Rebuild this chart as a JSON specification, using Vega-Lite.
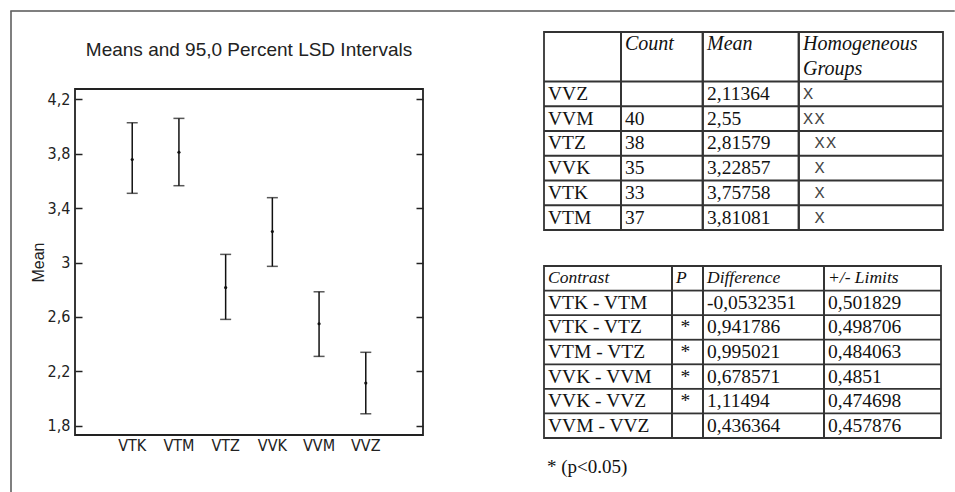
{
  "$schema": "https://vega.github.io/schema/vega-lite/v6.json",
  "padding": {"left": 10, "top": 10, "right": 0, "bottom": 0},
  "config": {"view": {"stroke": null}, "font": "Liberation Sans"},
  "datasets": {
    "means": [
      {"group": "VTK", "mean": 3.75758, "lower": 3.509, "upper": 4.028},
      {"group": "VTM", "mean": 3.81081, "lower": 3.565, "upper": 4.06},
      {"group": "VTZ", "mean": 2.81579, "lower": 2.582, "upper": 3.06},
      {"group": "VVK", "mean": 3.22857, "lower": 2.972, "upper": 3.477},
      {"group": "VVM", "mean": 2.55, "lower": 2.31, "upper": 2.785},
      {"group": "VVZ", "mean": 2.11364, "lower": 1.888, "upper": 2.34}
    ],
    "t1": [
      {"kind": "head", "row": "h1", "name": "", "count": "Count", "mean": "Mean", "groups": "Homogeneous", "g1": "", "g2": "", "g3": ""},
      {"kind": "head", "row": "h2", "name": "", "count": "", "mean": "", "groups": "Groups", "g1": "", "g2": "", "g3": ""},
      {"kind": "body", "row": "VVZ", "name": "VVZ", "count": "", "mean": "2,11364", "groups": "", "g1": "X", "g2": "", "g3": ""},
      {"kind": "body", "row": "VVM", "name": "VVM", "count": "40", "mean": "2,55", "groups": "", "g1": "X", "g2": "X", "g3": ""},
      {"kind": "body", "row": "VTZ", "name": "VTZ", "count": "38", "mean": "2,81579", "groups": "", "g1": "", "g2": "X", "g3": "X"},
      {"kind": "body", "row": "VVK", "name": "VVK", "count": "35", "mean": "3,22857", "groups": "", "g1": "", "g2": "X", "g3": ""},
      {"kind": "body", "row": "VTK", "name": "VTK", "count": "33", "mean": "3,75758", "groups": "", "g1": "", "g2": "X", "g3": ""},
      {"kind": "body", "row": "VTM", "name": "VTM", "count": "37", "mean": "3,81081", "groups": "", "g1": "", "g2": "X", "g3": ""}
    ],
    "t2": [
      {"kind": "head", "row": "head", "contrast": "Contrast", "p": "P", "diff": "Difference", "lim": "+/- Limits"},
      {"kind": "body", "row": "VTK - VTM", "contrast": "VTK - VTM", "p": "", "diff": "-0,0532351", "lim": "0,501829"},
      {"kind": "body", "row": "VTK - VTZ", "contrast": "VTK - VTZ", "p": "*", "diff": "0,941786", "lim": "0,498706"},
      {"kind": "body", "row": "VTM - VTZ", "contrast": "VTM - VTZ", "p": "*", "diff": "0,995021", "lim": "0,484063"},
      {"kind": "body", "row": "VVK - VVM", "contrast": "VVK - VVM", "p": "*", "diff": "0,678571", "lim": "0,4851"},
      {"kind": "body", "row": "VVK - VVZ", "contrast": "VVK - VVZ", "p": "*", "diff": "1,11494", "lim": "0,474698"},
      {"kind": "body", "row": "VVM - VVZ", "contrast": "VVM - VVZ", "p": "", "diff": "0,436364", "lim": "0,457876"}
    ],
    "note": [{"note": "* (p<0.05)"}]
  },
  "spacing": -1.5,
  "vconcat": [
    {"width": 943, "height": 0.001, "view": {"stroke": "#555", "strokeWidth": 1.5}, "data": {"values": []}, "mark": "point"},
    {
      "spacing": 17,
      "hconcat": [
        {"width": 0.001, "height": 481, "view": {"stroke": "#555", "strokeWidth": 1.5}, "data": {"values": []}, "mark": "point"},
        {
          "bounds": "flush",
          "spacing": 76,
          "vconcat": [
            {"width": 348, "height": 0.001, "data": {"values": []}, "mark": "point"},
            {
              "width": 348,
              "height": 346,
              "view": {"stroke": "#222", "strokeWidth": 1.8},
              "title": {"text": "Means and 95,0 Percent LSD Intervals", "font": "Liberation Sans", "fontSize": 19, "fontWeight": "normal", "color": "#222", "anchor": "middle", "baseline": "alphabetic", "offset": 14},
              "data": {"name": "means"},
              "encoding": {
                "x": {
                  "field": "group", "type": "nominal", "sort": null,
                  "scale": {"type": "band", "paddingInner": 0, "paddingOuter": 0.725, "domain": ["VTK", "VTM", "VTZ", "VVK", "VVM", "VVZ"]},
                  "axis": {"title": null, "labelAngle": 0, "ticks": false, "domain": false, "labelFont": "Liberation Sans Narrow, DejaVu Sans Condensed, Liberation Sans", "labelFontSize": 16, "labelColor": "#222", "labelPadding": 2}
                }
              },
              "layer": [
                {
                  "mark": {"type": "rule", "color": "#111", "strokeWidth": 1.5},
                  "encoding": {
                    "y": {
                      "field": "lower", "type": "quantitative",
                      "scale": {"domain": [1.732, 4.276], "nice": false, "zero": false},
                      "axis": {"orient": "left", "values": [1.8, 2.2, 2.6, 3, 3.4, 3.8, 4.2], "labelExpr": "replace(format(datum.value, '.1~f'), '.', ',')", "tickSize": -7, "tickWidth": 1.5, "tickColor": "#222", "domain": false, "grid": false, "labelFont": "Liberation Sans Narrow, DejaVu Sans Condensed, Liberation Sans", "labelFontSize": 16, "labelColor": "#222", "labelPadding": 12, "title": "Mean", "titleFont": "Liberation Sans", "titleFontSize": 16, "titleFontWeight": "normal", "titleColor": "#222", "titlePadding": 1}
                    },
                    "y2": {"field": "upper"}
                  }
                },
                {
                  "mark": {"type": "tick", "color": "#111", "size": 11, "thickness": 1.5},
                  "encoding": {
                    "y": {"field": "upper", "type": "quantitative", "axis": {"orient": "right", "values": [1.8, 2.2, 2.6, 3, 3.4, 3.8, 4.2], "labels": false, "tickSize": -7, "tickWidth": 1.5, "tickColor": "#222", "domain": false, "grid": false, "title": null}}
                  }
                },
                {
                  "mark": {"type": "tick", "color": "#111", "size": 11, "thickness": 1.5},
                  "encoding": {"y": {"field": "lower", "type": "quantitative", "axis": null}}
                },
                {
                  "mark": {"type": "circle", "size": 10, "color": "#111", "opacity": 1},
                  "encoding": {"y": {"field": "mean", "type": "quantitative", "axis": null}}
                }
              ],
              "resolve": {"axis": {"y": "independent"}}
            }
          ]
        },
        {"width": 82.2, "height": 0.001, "data": {"values": []}, "mark": "point"},
        {
          "spacing": 11,
          "vconcat": [
            {"width": 398, "height": 7.1, "data": {"values": []}, "mark": "point"},
            {
              "bounds": "flush",
              "spacing": 0,
              "hconcat": [
                {
                  "width": 77, "height": 198,
                  "view": {"stroke": "#333", "strokeWidth": 1.8},
                  "data": {"name": "t1"},
                  "layer": [
                    {"transform": [{"filter": "datum.kind == 'body'"}], "mark": {"type": "rule", "color": "#333", "strokeWidth": 1.8}, "encoding": {"y": {"field": "row", "type": "nominal", "bandPosition": 0, "scale": {"type": "band", "domain": ["h1", "h2", "VVZ", "VVM", "VTZ", "VVK", "VTK", "VTM"], "paddingInner": 0, "paddingOuter": 0}, "axis": null}}},
                    {"transform": [{"filter": "datum.kind == 'body'"}], "mark": {"type": "text", "align": "left", "dx": 4, "font": "Liberation Serif", "fontSize": 19.5, "color": "#111"}, "encoding": {"y": {"field": "row", "type": "nominal", "scale": {"type": "band", "domain": ["h1", "h2", "VVZ", "VVM", "VTZ", "VVK", "VTK", "VTM"], "paddingInner": 0, "paddingOuter": 0}, "axis": null}, "x": {"datum": 0, "type": "quantitative", "scale": {"domain": [0, 1]}, "axis": null}, "text": {"field": "name"}}}
                  ]
                },
                {
                  "width": 81.5, "height": 198,
                  "view": {"stroke": "#333", "strokeWidth": 1.8},
                  "data": {"name": "t1"},
                  "layer": [
                    {"transform": [{"filter": "datum.kind == 'body'"}], "mark": {"type": "rule", "color": "#333", "strokeWidth": 1.8}, "encoding": {"y": {"field": "row", "type": "nominal", "bandPosition": 0, "scale": {"type": "band", "domain": ["h1", "h2", "VVZ", "VVM", "VTZ", "VVK", "VTK", "VTM"], "paddingInner": 0, "paddingOuter": 0}, "axis": null}}},
                    {"transform": [{"filter": "datum.kind == 'head'"}], "mark": {"type": "text", "align": "left", "dx": 4, "font": "Liberation Serif", "fontStyle": "italic", "fontSize": 20, "color": "#111"}, "encoding": {"y": {"field": "row", "type": "nominal", "scale": {"type": "band", "domain": ["h1", "h2", "VVZ", "VVM", "VTZ", "VVK", "VTK", "VTM"], "paddingInner": 0, "paddingOuter": 0}, "axis": null}, "x": {"datum": 0, "type": "quantitative", "scale": {"domain": [0, 1]}, "axis": null}, "text": {"field": "count"}}},
                    {"transform": [{"filter": "datum.kind == 'body'"}], "mark": {"type": "text", "align": "left", "dx": 4, "font": "Liberation Serif", "fontSize": 19.5, "color": "#111"}, "encoding": {"y": {"field": "row", "type": "nominal", "scale": {"type": "band", "domain": ["h1", "h2", "VVZ", "VVM", "VTZ", "VVK", "VTK", "VTM"], "paddingInner": 0, "paddingOuter": 0}, "axis": null}, "x": {"datum": 0, "type": "quantitative", "scale": {"domain": [0, 1]}, "axis": null}, "text": {"field": "count"}}}
                  ]
                },
                {
                  "width": 95.5, "height": 198,
                  "view": {"stroke": "#333", "strokeWidth": 1.8},
                  "data": {"name": "t1"},
                  "layer": [
                    {"transform": [{"filter": "datum.kind == 'body'"}], "mark": {"type": "rule", "color": "#333", "strokeWidth": 1.8}, "encoding": {"y": {"field": "row", "type": "nominal", "bandPosition": 0, "scale": {"type": "band", "domain": ["h1", "h2", "VVZ", "VVM", "VTZ", "VVK", "VTK", "VTM"], "paddingInner": 0, "paddingOuter": 0}, "axis": null}}},
                    {"transform": [{"filter": "datum.kind == 'head'"}], "mark": {"type": "text", "align": "left", "dx": 4, "font": "Liberation Serif", "fontStyle": "italic", "fontSize": 20, "color": "#111"}, "encoding": {"y": {"field": "row", "type": "nominal", "scale": {"type": "band", "domain": ["h1", "h2", "VVZ", "VVM", "VTZ", "VVK", "VTK", "VTM"], "paddingInner": 0, "paddingOuter": 0}, "axis": null}, "x": {"datum": 0, "type": "quantitative", "scale": {"domain": [0, 1]}, "axis": null}, "text": {"field": "mean"}}},
                    {"transform": [{"filter": "datum.kind == 'body'"}], "mark": {"type": "text", "align": "left", "dx": 4, "font": "Liberation Serif", "fontSize": 19.5, "color": "#111"}, "encoding": {"y": {"field": "row", "type": "nominal", "scale": {"type": "band", "domain": ["h1", "h2", "VVZ", "VVM", "VTZ", "VVK", "VTK", "VTM"], "paddingInner": 0, "paddingOuter": 0}, "axis": null}, "x": {"datum": 0, "type": "quantitative", "scale": {"domain": [0, 1]}, "axis": null}, "text": {"field": "mean"}}}
                  ]
                },
                {
                  "width": 144, "height": 198,
                  "view": {"stroke": "#333", "strokeWidth": 1.8},
                  "data": {"name": "t1"},
                  "layer": [
                    {"transform": [{"filter": "datum.kind == 'body'"}], "mark": {"type": "rule", "color": "#333", "strokeWidth": 1.8}, "encoding": {"y": {"field": "row", "type": "nominal", "bandPosition": 0, "scale": {"type": "band", "domain": ["h1", "h2", "VVZ", "VVM", "VTZ", "VVK", "VTK", "VTM"], "paddingInner": 0, "paddingOuter": 0}, "axis": null}}},
                    {"transform": [{"filter": "datum.kind == 'head'"}], "mark": {"type": "text", "align": "left", "dx": 4, "font": "Liberation Serif", "fontStyle": "italic", "fontSize": 20, "color": "#111"}, "encoding": {"y": {"field": "row", "type": "nominal", "scale": {"type": "band", "domain": ["h1", "h2", "VVZ", "VVM", "VTZ", "VVK", "VTK", "VTM"], "paddingInner": 0, "paddingOuter": 0}, "axis": null}, "x": {"datum": 0, "type": "quantitative", "scale": {"domain": [0, 1]}, "axis": null}, "text": {"field": "groups"}}},
                    {"transform": [{"filter": "datum.kind == 'body'"}], "mark": {"type": "text", "align": "left", "dx": 4, "font": "Liberation Mono", "fontSize": 17, "color": "#444"}, "encoding": {"y": {"field": "row", "type": "nominal", "scale": {"type": "band", "domain": ["h1", "h2", "VVZ", "VVM", "VTZ", "VVK", "VTK", "VTM"], "paddingInner": 0, "paddingOuter": 0}, "axis": null}, "x": {"datum": 0, "type": "quantitative", "scale": {"domain": [0, 1]}, "axis": null}, "text": {"field": "g1"}}},
                    {"transform": [{"filter": "datum.kind == 'body'"}], "mark": {"type": "text", "align": "left", "dx": 15.5, "font": "Liberation Mono", "fontSize": 17, "color": "#444"}, "encoding": {"y": {"field": "row", "type": "nominal", "scale": {"type": "band", "domain": ["h1", "h2", "VVZ", "VVM", "VTZ", "VVK", "VTK", "VTM"], "paddingInner": 0, "paddingOuter": 0}, "axis": null}, "x": {"datum": 0, "type": "quantitative", "scale": {"domain": [0, 1]}, "axis": null}, "text": {"field": "g2"}}},
                    {"transform": [{"filter": "datum.kind == 'body'"}], "mark": {"type": "text", "align": "left", "dx": 27, "font": "Liberation Mono", "fontSize": 17, "color": "#444"}, "encoding": {"y": {"field": "row", "type": "nominal", "scale": {"type": "band", "domain": ["h1", "h2", "VVZ", "VVM", "VTZ", "VVK", "VTK", "VTM"], "paddingInner": 0, "paddingOuter": 0}, "axis": null}, "x": {"datum": 0, "type": "quantitative", "scale": {"domain": [0, 1]}, "axis": null}, "text": {"field": "g3"}}}
                  ]
                }
              ]
            },
            {"width": 398, "height": 11.2, "data": {"values": []}, "mark": "point"},
            {
              "bounds": "flush",
              "spacing": 0,
              "hconcat": [
                {
                  "width": 128, "height": 172,
                  "view": {"stroke": "#333", "strokeWidth": 1.8},
                  "data": {"name": "t2"},
                  "layer": [
                    {"transform": [{"filter": "datum.kind == 'body'"}], "mark": {"type": "rule", "color": "#333", "strokeWidth": 1.8}, "encoding": {"y": {"field": "row", "type": "nominal", "bandPosition": 0, "scale": {"type": "band", "domain": ["head", "VTK - VTM", "VTK - VTZ", "VTM - VTZ", "VVK - VVM", "VVK - VVZ", "VVM - VVZ"], "paddingInner": 0, "paddingOuter": 0}, "axis": null}}},
                    {"transform": [{"filter": "datum.kind == 'head'"}], "mark": {"type": "text", "align": "left", "dx": 4, "font": "Liberation Serif", "fontStyle": "italic", "fontSize": 17.5, "color": "#111"}, "encoding": {"y": {"field": "row", "type": "nominal", "scale": {"type": "band", "domain": ["head", "VTK - VTM", "VTK - VTZ", "VTM - VTZ", "VVK - VVM", "VVK - VVZ", "VVM - VVZ"], "paddingInner": 0, "paddingOuter": 0}, "axis": null}, "x": {"datum": 0, "type": "quantitative", "scale": {"domain": [0, 1]}, "axis": null}, "text": {"field": "contrast"}}},
                    {"transform": [{"filter": "datum.kind == 'body'"}], "mark": {"type": "text", "align": "left", "dx": 4, "font": "Liberation Serif", "fontSize": 19.5, "color": "#111"}, "encoding": {"y": {"field": "row", "type": "nominal", "scale": {"type": "band", "domain": ["head", "VTK - VTM", "VTK - VTZ", "VTM - VTZ", "VVK - VVM", "VVK - VVZ", "VVM - VVZ"], "paddingInner": 0, "paddingOuter": 0}, "axis": null}, "x": {"datum": 0, "type": "quantitative", "scale": {"domain": [0, 1]}, "axis": null}, "text": {"field": "contrast"}}}
                  ]
                },
                {
                  "width": 31, "height": 172,
                  "view": {"stroke": "#333", "strokeWidth": 1.8},
                  "data": {"name": "t2"},
                  "layer": [
                    {"transform": [{"filter": "datum.kind == 'body'"}], "mark": {"type": "rule", "color": "#333", "strokeWidth": 1.8}, "encoding": {"y": {"field": "row", "type": "nominal", "bandPosition": 0, "scale": {"type": "band", "domain": ["head", "VTK - VTM", "VTK - VTZ", "VTM - VTZ", "VVK - VVM", "VVK - VVZ", "VVM - VVZ"], "paddingInner": 0, "paddingOuter": 0}, "axis": null}}},
                    {"transform": [{"filter": "datum.kind == 'head'"}], "mark": {"type": "text", "align": "left", "dx": 4, "font": "Liberation Serif", "fontStyle": "italic", "fontSize": 17.5, "color": "#111"}, "encoding": {"y": {"field": "row", "type": "nominal", "scale": {"type": "band", "domain": ["head", "VTK - VTM", "VTK - VTZ", "VTM - VTZ", "VVK - VVM", "VVK - VVZ", "VVM - VVZ"], "paddingInner": 0, "paddingOuter": 0}, "axis": null}, "x": {"datum": 0, "type": "quantitative", "scale": {"domain": [0, 1]}, "axis": null}, "text": {"field": "p"}}},
                    {"transform": [{"filter": "datum.kind == 'body'"}], "mark": {"type": "text", "align": "center", "font": "Liberation Serif", "fontSize": 19.5, "color": "#111"}, "encoding": {"y": {"field": "row", "type": "nominal", "scale": {"type": "band", "domain": ["head", "VTK - VTM", "VTK - VTZ", "VTM - VTZ", "VVK - VVM", "VVK - VVZ", "VVM - VVZ"], "paddingInner": 0, "paddingOuter": 0}, "axis": null}, "x": {"datum": 0.43, "type": "quantitative", "scale": {"domain": [0, 1]}, "axis": null}, "text": {"field": "p"}}}
                  ]
                },
                {
                  "width": 121, "height": 172,
                  "view": {"stroke": "#333", "strokeWidth": 1.8},
                  "data": {"name": "t2"},
                  "layer": [
                    {"transform": [{"filter": "datum.kind == 'body'"}], "mark": {"type": "rule", "color": "#333", "strokeWidth": 1.8}, "encoding": {"y": {"field": "row", "type": "nominal", "bandPosition": 0, "scale": {"type": "band", "domain": ["head", "VTK - VTM", "VTK - VTZ", "VTM - VTZ", "VVK - VVM", "VVK - VVZ", "VVM - VVZ"], "paddingInner": 0, "paddingOuter": 0}, "axis": null}}},
                    {"transform": [{"filter": "datum.kind == 'head'"}], "mark": {"type": "text", "align": "left", "dx": 4, "font": "Liberation Serif", "fontStyle": "italic", "fontSize": 17.5, "color": "#111"}, "encoding": {"y": {"field": "row", "type": "nominal", "scale": {"type": "band", "domain": ["head", "VTK - VTM", "VTK - VTZ", "VTM - VTZ", "VVK - VVM", "VVK - VVZ", "VVM - VVZ"], "paddingInner": 0, "paddingOuter": 0}, "axis": null}, "x": {"datum": 0, "type": "quantitative", "scale": {"domain": [0, 1]}, "axis": null}, "text": {"field": "diff"}}},
                    {"transform": [{"filter": "datum.kind == 'body'"}], "mark": {"type": "text", "align": "left", "dx": 4, "font": "Liberation Serif", "fontSize": 19.5, "color": "#111"}, "encoding": {"y": {"field": "row", "type": "nominal", "scale": {"type": "band", "domain": ["head", "VTK - VTM", "VTK - VTZ", "VTM - VTZ", "VVK - VVM", "VVK - VVZ", "VVM - VVZ"], "paddingInner": 0, "paddingOuter": 0}, "axis": null}, "x": {"datum": 0, "type": "quantitative", "scale": {"domain": [0, 1]}, "axis": null}, "text": {"field": "diff"}}}
                  ]
                },
                {
                  "width": 117, "height": 172,
                  "view": {"stroke": "#333", "strokeWidth": 1.8},
                  "data": {"name": "t2"},
                  "layer": [
                    {"transform": [{"filter": "datum.kind == 'body'"}], "mark": {"type": "rule", "color": "#333", "strokeWidth": 1.8}, "encoding": {"y": {"field": "row", "type": "nominal", "bandPosition": 0, "scale": {"type": "band", "domain": ["head", "VTK - VTM", "VTK - VTZ", "VTM - VTZ", "VVK - VVM", "VVK - VVZ", "VVM - VVZ"], "paddingInner": 0, "paddingOuter": 0}, "axis": null}}},
                    {"transform": [{"filter": "datum.kind == 'head'"}], "mark": {"type": "text", "align": "left", "dx": 4, "font": "Liberation Serif", "fontStyle": "italic", "fontSize": 17.5, "color": "#111"}, "encoding": {"y": {"field": "row", "type": "nominal", "scale": {"type": "band", "domain": ["head", "VTK - VTM", "VTK - VTZ", "VTM - VTZ", "VVK - VVM", "VVK - VVZ", "VVM - VVZ"], "paddingInner": 0, "paddingOuter": 0}, "axis": null}, "x": {"datum": 0, "type": "quantitative", "scale": {"domain": [0, 1]}, "axis": null}, "text": {"field": "lim"}}},
                    {"transform": [{"filter": "datum.kind == 'body'"}], "mark": {"type": "text", "align": "left", "dx": 4, "font": "Liberation Serif", "fontSize": 19.5, "color": "#111"}, "encoding": {"y": {"field": "row", "type": "nominal", "scale": {"type": "band", "domain": ["head", "VTK - VTM", "VTK - VTZ", "VTM - VTZ", "VVK - VVM", "VVK - VVZ", "VVM - VVZ"], "paddingInner": 0, "paddingOuter": 0}, "axis": null}, "x": {"datum": 0, "type": "quantitative", "scale": {"domain": [0, 1]}, "axis": null}, "text": {"field": "lim"}}}
                  ]
                }
              ]
            },
            {
              "width": 200, "height": 34,
              "data": {"name": "note"},
              "mark": {"type": "text", "align": "left", "dx": 3, "font": "Liberation Serif", "fontSize": 19, "color": "#111"},
              "encoding": {"x": {"datum": 0, "type": "quantitative", "scale": {"domain": [0, 1]}, "axis": null}, "text": {"field": "note"}}
            }
          ]
        }
      ]
    }
  ]
}
